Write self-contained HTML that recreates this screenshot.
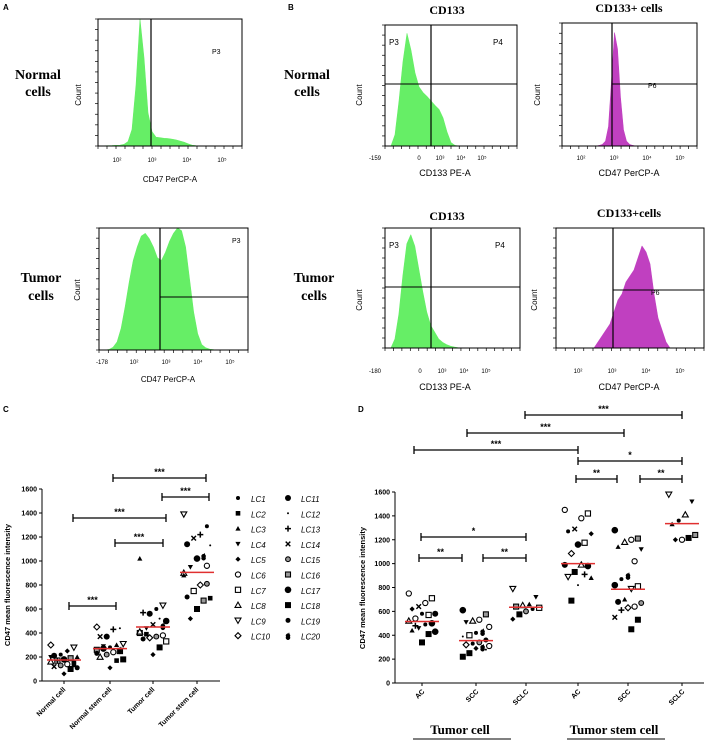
<!DOCTYPE html>
<html><head><meta charset="utf-8"><style>
body{margin:0;background:#fff;}
svg{display:block;font-family:"Liberation Sans",sans-serif;}
.ser{font-family:"Liberation Serif",serif;font-weight:bold;}
</style></head><body>
<svg id="fig" width="708" height="750" viewBox="0 0 708 750" xmlns="http://www.w3.org/2000/svg">
<g id="flow"></g>
<g id="panelC"></g>
<g id="panelD"></g>
</svg>
<script>
// ---------- data ----------
const histNormalA=[1,2,3,4,6,8,15,40,150,550,1150,800,300,130,80,75,70,68,62,55,45,35,20,8,3,1,0,0,0,0,0,0,0,0,0,0];
const histTumorA=[0,0,2,10,30,80,160,250,330,380,420,430,410,380,340,330,360,400,430,450,440,380,260,140,60,20,8,3,1,0,0,0,0,0,0,0,0];
const histCD133N=[0,0,200,800,1500,2000,1700,1300,1050,950,880,800,720,650,500,250,60,10,0,0,0,0,0,0,0,0,0,0,0,0,0,0,0];
const histCD133T=[0,0,40,150,320,460,500,450,350,250,160,100,70,40,25,15,8,4,1,0,0,0,0,0,0,0,0,0,0,0,0,0,0,0];
const histCD47N=[0,0,0,0,0,0,0,0,0,0,0,0,2,5,15,60,200,350,300,150,50,15,5,2,0,0,0,0,0,0,0,0,0,0,0,0,0,0,0,0,0,0,0,0,0];
const histCD47T=[0,0,0,0,0,0,0,0,0,0,1,2,3,4,6,8,9,11,12,13,15,17,16,14,9,5,3,1,0,0,0,0,0,0,0,0,0];

const catsC=["Normal cell","Normal stem cell","Tumor cell","Tumor stem cell"];
const meansC=[175,270,450,905];
const valsC=[
[300,280,250,220,210,200,190,180,170,160,150,140,130,120,110,100,60,170,200,150],
[450,440,430,370,370,310,300,280,270,260,250,240,220,200,180,170,110,290,230,260],
[1020,630,600,560,570,500,520,470,440,400,380,370,360,350,330,280,220,390,410,460],
[1390,1290,1220,1190,1140,1130,1040,1020,950,900,810,800,750,700,690,670,600,520,880,960]];
const symC=[
[10,9,5,1,11,3,16,17,7,8,2,6,15,14,19,18,5,13,4,20],
[10,12,13,11,14,9,3,1,17,16,7,6,15,8,18,2,5,4,19,20],
[3,9,1,11,13,17,12,14,4,16,6,15,10,19,7,18,5,2,8,20],
[9,1,13,14,11,12,20,17,4,8,15,10,7,19,2,16,18,5,3,6]];
const yTicks=[0,200,400,600,800,1000,1200,1400,1600];

const catsD=["AC","SCC","SCLC","AC","SCC","SCLC"];
const meansD=[515,355,635,1000,785,1335];
const valsD=[
[750,710,670,640,620,580,570,580,540,520,500,490,460,440,430,410,340,480],
[610,575,530,520,510,470,430,420,400,390,360,340,330,320,310,300,290,250,220,280],
[790,720,660,650,640,630,620,600,575,535],
[1450,1420,1380,1290,1270,1250,1175,1160,1085,990,980,990,930,890,880,910,820,690],
[1280,1210,1200,1180,1140,1120,1020,900,870,820,810,790,700,680,670,640,630,610,550,530,450],
[1580,1520,1410,1360,1330,1240,1215,1200,1200]];
const symD=[
[6,7,6,14,5,11,7,1,6,8,17,1,4,3,17,18,18,13],
[17,16,6,8,4,6,20,1,7,12,19,15,1,10,6,20,5,18,18,12],
[9,4,3,8,16,7,1,15,18,5],
[6,7,6,14,1,5,7,17,10,11,17,8,18,9,3,13,12,18],
[17,16,6,8,3,4,6,20,1,17,7,9,3,11,15,6,10,13,14,18,18],
[9,4,8,1,3,16,18,6,5]];

// ---------- helpers ----------
const NS="http://www.w3.org/2000/svg";
function mk(parent,tag,attrs,text){const e=document.createElementNS(NS,tag);for(const k in attrs)e.setAttribute(k,attrs[k]);if(text!==undefined)e.textContent=text;parent.appendChild(e);return e;}
function txt(p,x,y,s,size,opt){opt=opt||{};return mk(p,'text',Object.assign({x:x,y:y,'font-size':size,fill:'#000'},opt),s);}

const flow=document.getElementById('flow');
function histPanel(box,counts,maxv,color,name){
  const g=mk(flow,'g',{});
  
  
  const [x0,y0,x1,y1]=box, n=counts.length, w=(x1-x0)/n;
  let d='M'+x0+','+y1;
  counts.forEach((c,i)=>{const h=Math.min(1,c/maxv)*(y1-y0);d+=' L'+(x0+(i+0.5)*w)+','+(y1-h);});
  d+=' L'+x1+','+y1+' Z';
  mk(g,'path',{d:d,fill:color,stroke:color,'stroke-width':0.6,'stroke-linejoin':'round'});
  mk(g,'rect',{x:x0,y:y0,width:x1-x0,height:y1-y0,fill:'none',stroke:'#000','stroke-width':1});
  for(let i=0;i<=12;i++)mk(g,'line',{x1:x0-3,x2:x0,y1:y0+i*(y1-y0)/12,y2:y0+i*(y1-y0)/12,stroke:'#000','stroke-width':0.7});
  for(let i=0;i<=16;i++)mk(g,'line',{x1:x0+i*(x1-x0)/16,x2:x0+i*(x1-x0)/16,y1:y1,y2:y1+3,stroke:'#000','stroke-width':0.7});
  return g;
}
function gate(g,x,y,x2,hy){mk(g,'line',{x1:x,x2:x,y1:y,y2:hy[1],stroke:'#000','stroke-width':1.2});if(x2)mk(g,'line',{x1:hy[2],x2:x2,y1:hy[0],y2:hy[0],stroke:'#000','stroke-width':1});}

// ---------- Panel A/B flow ----------
txt(flow,3,10,'A',8,{'font-weight':'bold',});
txt(flow,288,10,'B',8,{'font-weight':'bold',});
[['Normal',79,96,38,307],['Tumor',282,300,41,314]].forEach(r=>{
  txt(flow,r[3],r[1],r[0],14,{class:'ser','text-anchor':'middle'});
  txt(flow,r[3],r[2],'cells',14,{class:'ser','text-anchor':'middle'});
  txt(flow,r[4],r[1],r[0],14,{class:'ser','text-anchor':'middle'});
  txt(flow,r[4],r[2],'cells',14,{class:'ser','text-anchor':'middle'});
});
let g=histPanel([98,19,242,146],histNormalA,1150,'#66ee66','hist-normal-cd47');
gate(g,151,19,0,[0,146]); txt(g,212,54,'P3',7);
txt(g,170,182,'CD47 PerCP-A',8,{'text-anchor':'middle'});
['10²','10³','10⁴','10⁵'].forEach((s,i)=>txt(g,117+i*35,162,s,6,{'text-anchor':'middle'}));
txt(g,81,95,'Count',8,{transform:'rotate(-90 81 95)','text-anchor':'middle'});
g=histPanel([99,228,248,350],histTumorA,450,'#66ee66','hist-tumor-cd47');
gate(g,160,228,248,[297,350,160]); txt(g,232,243,'P3',7);
txt(g,168,382,'CD47 PerCP-A',8,{'text-anchor':'middle'});
['-178','10²','10³','10⁴','10⁵'].forEach((s,i)=>txt(g,102+i*32,364,s,6,{'text-anchor':'middle'}));
txt(g,80,290,'Count',8,{transform:'rotate(-90 80 290)','text-anchor':'middle'});

g=histPanel([385,25,517,146],histCD133N,2150,'#66ee66','hist-normal-cd133');
gate(g,431,25,517,[84,146,385]); txt(g,389,45,'P3',8); txt(g,493,45,'P4',8);
txt(g,447,14,'CD133',12,{class:'ser','text-anchor':'middle'});
txt(g,445,176,'CD133 PE-A',9,{'text-anchor':'middle'});
['-159','0','10³','10⁴','10⁵'].forEach((s,i)=>txt(g,375+i*21+(i>0?23:0),160,s,6,{'text-anchor':'middle'}));
txt(g,362,95,'Count',8,{transform:'rotate(-90 362 95)','text-anchor':'middle'});
g=histPanel([562,23,697,146],histCD47N,380,'#c040c0','hist-normal-cd133pos-cd47');
gate(g,612,23,697,[84,146,612]); txt(g,648,88,'P6',7);
txt(g,629,12,'CD133+ cells',12,{class:'ser','text-anchor':'middle'});
txt(g,629,176,'CD47 PerCP-A',9,{'text-anchor':'middle'});
['10²','10³','10⁴','10⁵'].forEach((s,i)=>txt(g,581+i*33,160,s,6,{'text-anchor':'middle'}));
txt(g,540,95,'Count',8,{transform:'rotate(-90 540 95)','text-anchor':'middle'});

g=histPanel([385,228,520,348],histCD133T,530,'#66ee66','hist-tumor-cd133');
gate(g,431,228,520,[287,348,385]); txt(g,389,248,'P3',8); txt(g,495,248,'P4',8);
txt(g,447,220,'CD133',12,{class:'ser','text-anchor':'middle'});
txt(g,445,390,'CD133 PE-A',9,{'text-anchor':'middle'});
['-180','0','10³','10⁴','10⁵'].forEach((s,i)=>txt(g,375+i*22+(i>0?23:0),373,s,6,{'text-anchor':'middle'}));
txt(g,362,300,'Count',8,{transform:'rotate(-90 362 300)','text-anchor':'middle'});
g=histPanel([556,228,704,348],histCD47T,20,'#c040c0','hist-tumor-cd133pos-cd47');
gate(g,613,228,704,[290,348,613]); txt(g,651,295,'P6',7);
txt(g,629,217,'CD133+cells',12,{class:'ser','text-anchor':'middle'});
txt(g,629,390,'CD47 PerCP-A',9,{'text-anchor':'middle'});
['10²','10³','10⁴','10⁵'].forEach((s,i)=>txt(g,578+i*34,373,s,6,{'text-anchor':'middle'}));
txt(g,537,300,'Count',8,{transform:'rotate(-90 537 300)','text-anchor':'middle'});

// ---------- symbols ----------
function sym(p,k,x,y){
  const s=2.6, open={fill:'#fff',stroke:'#000','stroke-width':1.1}, fill={fill:'#000'}, gray={fill:'#999',stroke:'#000','stroke-width':1.1};
  switch(k){
    case 1: return mk(p,'circle',Object.assign({cx:x,cy:y,r:2},fill));
    case 2: return mk(p,'rect',Object.assign({x:x-2.3,y:y-2.3,width:4.6,height:4.6},fill));
    case 3: return mk(p,'path',Object.assign({d:`M${x},${y-2.6}L${x+2.6},${y+2}L${x-2.6},${y+2}Z`},fill));
    case 4: return mk(p,'path',Object.assign({d:`M${x},${y+2.6}L${x+2.6},${y-2}L${x-2.6},${y-2}Z`},fill));
    case 5: return mk(p,'path',Object.assign({d:`M${x},${y-s}L${x+s},${y}L${x},${y+s}L${x-s},${y}Z`},fill));
    case 6: return mk(p,'circle',Object.assign({cx:x,cy:y,r:2.6},open));
    case 7: return mk(p,'rect',Object.assign({x:x-2.6,y:y-2.6,width:5.2,height:5.2},open));
    case 8: return mk(p,'path',Object.assign({d:`M${x},${y-3}L${x+3},${y+2.3}L${x-3},${y+2.3}Z`},open));
    case 9: return mk(p,'path',Object.assign({d:`M${x},${y+3}L${x+3},${y-2.3}L${x-3},${y-2.3}Z`},open));
    case 10: return mk(p,'path',Object.assign({d:`M${x},${y-3}L${x+3},${y}L${x},${y+3}L${x-3},${y}Z`},open));
    case 11: return mk(p,'circle',Object.assign({cx:x,cy:y,r:3},fill));
    case 12: return mk(p,'circle',Object.assign({cx:x,cy:y,r:1},fill));
    case 13: return mk(p,'path',{d:`M${x-3},${y}H${x+3}M${x},${y-3}V${y+3}`,stroke:'#000','stroke-width':1.5});
    case 14: return mk(p,'path',{d:`M${x-2.3},${y-2.3}L${x+2.3},${y+2.3}M${x+2.3},${y-2.3}L${x-2.3},${y+2.3}`,stroke:'#000','stroke-width':1.4});
    case 15: return mk(p,'circle',Object.assign({cx:x,cy:y,r:2.4},gray));
    case 16: return mk(p,'rect',Object.assign({x:x-2.5,y:y-2.5,width:5,height:5},gray));
    case 17: return mk(p,'circle',Object.assign({cx:x,cy:y,r:3.3},fill));
    case 18: return mk(p,'rect',Object.assign({x:x-3,y:y-3,width:6,height:6},fill));
    case 19: return mk(p,'circle',Object.assign({cx:x,cy:y,r:2.5},fill));
    default: return mk(p,'path',{d:`M${x-1.5},${y+1}a1.8,1.8 0 1,0 3,0a1.8,1.8 0 1,0 -3,0M${x+1},${y-1}L${x+1},${y-3}`,fill:'#000',stroke:'#000','stroke-width':0.8});
  }
}

function dotPlot(gid,vals,syms,means,cats,xs,ax,xEnd){
  const G=document.getElementById(gid);
  const yS=v=>ax.y0-(v/1600)*(ax.y0-ax.y1);
  const axis=mk(G,'g',{});
  
  
  mk(axis,'line',{x1:ax.x,x2:ax.x,y1:ax.y1,y2:ax.y0,stroke:'#000','stroke-width':1});
  mk(axis,'line',{x1:ax.x,x2:xEnd,y1:ax.y0,y2:ax.y0,stroke:'#000','stroke-width':1});
  yTicks.forEach(t=>{mk(axis,'line',{x1:ax.x-3,x2:ax.x,y1:yS(t),y2:yS(t),stroke:'#000'});txt(axis,ax.x-5,yS(t)+2.5,String(t),7,{'text-anchor':'end','font-weight':'bold'});});
  cats.forEach((c,ci)=>{
    const cg=mk(G,'g',{});
    
    
    const cx=xs[ci];
    mk(cg,'line',{x1:cx,x2:cx,y1:ax.y0,y2:ax.y0+3,stroke:'#000'});
    vals[ci].forEach((v,i)=>{const off=((i*7)%9-4)*3.3;const s=sym(cg,syms[ci][i],cx+off,yS(v));
      
      });
    const m=mk(cg,'line',{x1:cx-17,x2:cx+17,y1:yS(means[ci]),y2:yS(means[ci]),stroke:'#e03030','stroke-width':1.5});
    
    
  });
  return {G,yS};
}
function bracket(G,x1,x2,y,label){
  const b=mk(G,'g',{});
  
  
  mk(b,'path',{d:`M${x1},${y-4}V${y+4}M${x1},${y}H${x2}M${x2},${y-4}V${y+4}`,stroke:'#000','stroke-width':1.3,fill:'none'});
  txt(b,(x1+x2)/2,y-3,label,9,{'text-anchor':'middle','font-weight':'bold'});
}

// ---------- Panel C ----------
const xsC=[64,110,153,197];
let C=dotPlot('panelC',valsC,symC,meansC,catsC,xsC,{x:42,y0:681,y1:489},220);
txt(C.G,3,412,'C',8,{'font-weight':'bold'});
txt(C.G,10,585,'CD47 mean fluorescence intensity',7.5,{transform:'rotate(-90 10 585)','text-anchor':'middle','font-weight':'bold'});
catsC.forEach((c,i)=>txt(C.G,xsC[i]+2,690,c,7,{transform:`rotate(-45 ${xsC[i]+2} 690)`,'text-anchor':'end','font-weight':'bold'}));
bracket(C.G,113,206,478,'***');bracket(C.G,162,209,497,'***');bracket(C.G,73,166,518,'***');bracket(C.G,115,163,543,'***');bracket(C.G,69,116,606,'***');
const leg=mk(C.G,'g',{});


for(let i=0;i<20;i++){const col=i<10?0:1,row=i%10;const x=238+col*50,y=500+row*15.3;
  sym(leg,i+1,x,y-2);txt(leg,x+13,y+2,'LC'+(i+1),8,{'font-style':'italic'});}

// ---------- Panel D ----------
const xsD=[422,476,526,578,628,682];
let D=dotPlot('panelD',valsD,symD,meansD,catsD,xsD,{x:395,y0:683,y1:492},704);
txt(D.G,358,412,'D',8,{'font-weight':'bold'});
txt(D.G,365,588,'CD47 mean fluorescence intensity',7.5,{transform:'rotate(-90 365 588)','text-anchor':'middle','font-weight':'bold'});
catsD.forEach((c,i)=>txt(D.G,xsD[i]+3,692,c,7,{transform:`rotate(-45 ${xsD[i]+3} 692)`,'text-anchor':'end','font-weight':'bold'}));
bracket(D.G,525,682,415,'***');bracket(D.G,467,624,433,'***');bracket(D.G,414,578,450,'***');
bracket(D.G,578,682,461,'*');bracket(D.G,576,617,479,'**');bracket(D.G,640,682,479,'**');
bracket(D.G,421,526,537,'*');bracket(D.G,419,462,558,'**');bracket(D.G,483,526,558,'**');
txt(D.G,460,734,'Tumor cell',13,{class:'ser','text-anchor':'middle'});
mk(D.G,'line',{x1:413,x2:511,y1:739,y2:739,stroke:'#000','stroke-width':1});
txt(D.G,614,734,'Tumor stem cell',13,{class:'ser','text-anchor':'middle'});
mk(D.G,'line',{x1:567,x2:665,y1:739,y2:739,stroke:'#000','stroke-width':1});
</script>
</body></html>
